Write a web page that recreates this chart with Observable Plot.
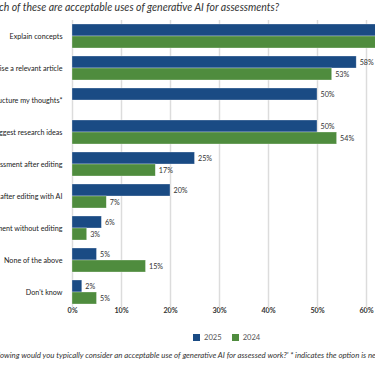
<!DOCTYPE html>
<html>
<head>
<meta charset="utf-8">
<script src="https://cdn.jsdelivr.net/npm/d3@7"></script>
<script src="https://cdn.jsdelivr.net/npm/@observablehq/plot@0.6"></script>
<style>
  html, body { margin: 0; padding: 0; background: #fff; }
  body { width: 375px; height: 366px; overflow: hidden; position: relative; font-family: Lato, "Open Sans", sans-serif; }
  #title { position: absolute; left: -1px; top: 1px; white-space: nowrap; font-style: italic; font-size: 10.5px; color: #333; }
  #chart { position: absolute; left: -128px; top: 0px; width: 563px; }
  #chart svg { max-width: none !important; display: block; }
  #legend { position: absolute; left: 193px; top: 332px; white-space: nowrap; font-size: 7.6px; color: #555; }
  #legend .item { display: inline-flex; align-items: center; margin-right: 10px; }
  #legend .sw { display: inline-block; width: 7px; height: 7px; margin-right: 4px; }
  #caption { position: absolute; left: 0px; top: 350px; white-space: nowrap; font-style: italic; font-size: 7.85px; color: #333; }
  .pre { position: absolute; right: 100%; }
  #chart svg [aria-label^="x-axis"] text { font-weight: 700; fill: #333; }
</style>
</head>
<body>
<div id="title"><span class="pre">Whi</span>ch of these are acceptable uses of generative AI for assessments?</div>
<div id="chart"></div>
<div id="legend"></div>
<div id="caption"><span class="pre">'Which of the foll</span>owing would you typically consider an acceptable use of generative AI for assessed work?' * indicates the option is new in 2025.</div>
<script>
const categories = [
  "Explain concepts",
  "Summarise a relevant article",
  "Structure my thoughts*",
  "Suggest research ideas",
  "Use AI-generated text in my assessment after editing",
  "Submit work I have written after editing with AI",
  "Use AI-generated text in my assessment without editing",
  "None of the above",
  "Don't know"
];
const years = ["2025", "2024"];
const colors = ["#1a4b84", "#4f8c3e"];
const values2025 = [66, 58, 50, 50, 25, 20, 6, 5, 2];
const values2024 = [64, 53, null, 54, 17, 7, 3, 15, 5];
const xTicks = [0, 10, 20, 30, 40, 50, 60, 70];

const data = categories.flatMap((c, i) => [
  {category: c, year: "2025", value: values2025[i]},
  {category: c, year: "2024", value: values2024[i]}
]).filter(d => d.value != null);

const chart = Plot.plot({
  width: 563,
  height: 322,
  marginLeft: 200,
  marginRight: 20,
  marginTop: 20,
  marginBottom: 14,
  style: {fontFamily: "Lato, 'Open Sans', sans-serif", fontSize: "7.2px", color: "#222", background: "transparent", overflow: "visible", maxWidth: "none"},
  x: {domain: [0, 70], ticks: xTicks, tickFormat: d => d + "%", label: null, tickSize: 0, tickPadding: 3},
  y: {domain: years, axis: null, padding: 0},
  fy: {domain: categories, paddingInner: 0.25, paddingOuter: 0.125, label: null, tickSize: 0, tickPadding: 10, axis: "left"},
  color: {domain: years, range: colors},
  marks: [
    Plot.ruleX(xTicks, {stroke: "#dcdcdc", strokeWidth: 1.5, insetTop: -4, insetBottom: -4}),
    Plot.barX(data, {fy: "category", y: "year", x: "value", fill: "year", stroke: "#ffffff", strokeOpacity: 0.5, strokeWidth: 0.6}),
    Plot.text(data, {fy: "category", y: "year", x: "value", text: d => d.value + "%", dx: 3, textAnchor: "start", fill: "#333"})
  ]
});
document.getElementById("chart").appendChild(chart);

const legend = document.getElementById("legend");
years.forEach((y, i) => {
  const item = document.createElement("span");
  item.className = "item";
  item.innerHTML = `<span class="sw" style="background:${colors[i]}"></span>${y}`;
  legend.appendChild(item);
});
</script>
</body>
</html>
